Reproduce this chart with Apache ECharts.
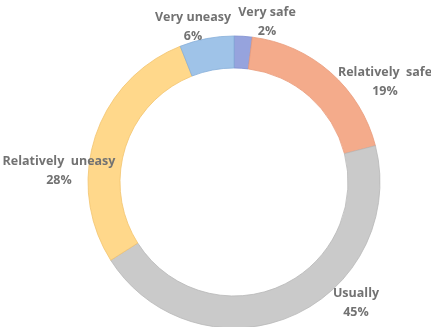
<!DOCTYPE html>
<html>
<head>
<meta charset="utf-8">
<script src="https://cdn.jsdelivr.net/npm/echarts@6/dist/echarts.min.js"></script>
<style>
  html, body { margin: 0; padding: 0; background: #fff; }
  #chart { width: 431px; height: 327px; }
</style>
</head>
<body>
<div id="chart"></div>
<script>
// data, clockwise from 12 o'clock
const categories = ['Very safe', 'Relatively safe', 'Usually', 'Relatively uneasy', 'Very uneasy']
const shares = [2, 19, 45, 28, 6]

const COLORS = ['#96a3dd', '#f4ab8b', '#cacaca', '#ffd88b', '#9fc3e8']
const BORDERS = ['#7f8fd0', '#e89a7a', '#b8b8b8', '#f2c46e', '#86afd9']
// label block centres (text placement only)
const LABEL_POS = [[267, 22], [385, 82], [356, 303], [59, 171], [193, 27]]

const chart = echarts.init(document.getElementById('chart'))

chart.setOption({
  animation: false,
  series: [{
    type: 'pie',
    center: [234, 182],
    radius: [114, 146],
    startAngle: 90,
    clockwise: true,
    avoidLabelOverlap: false,
    data: categories.map((name, i) => ({
      name,
      value: shares[i],
      itemStyle: { color: COLORS[i], borderColor: BORDERS[i], borderWidth: 0.8 },
    })),
    label: {
      show: true,
      position: 'outside',
      formatter: p => p.name.replace('Relatively ', 'Relatively  ') + '\n' + p.value + '%',
      color: '#727272',
      fontFamily: 'Open Sans',
      fontWeight: 'bold',
      fontSize: 12.5,
      lineHeight: 19,
      align: 'center',
    },
    labelLine: { show: false },
    labelLayout: p => ({
      x: LABEL_POS[p.dataIndex][0],
      y: LABEL_POS[p.dataIndex][1],
      align: 'center',
      verticalAlign: 'middle',
    }),
  }],
})
</script>
</body>
</html>
